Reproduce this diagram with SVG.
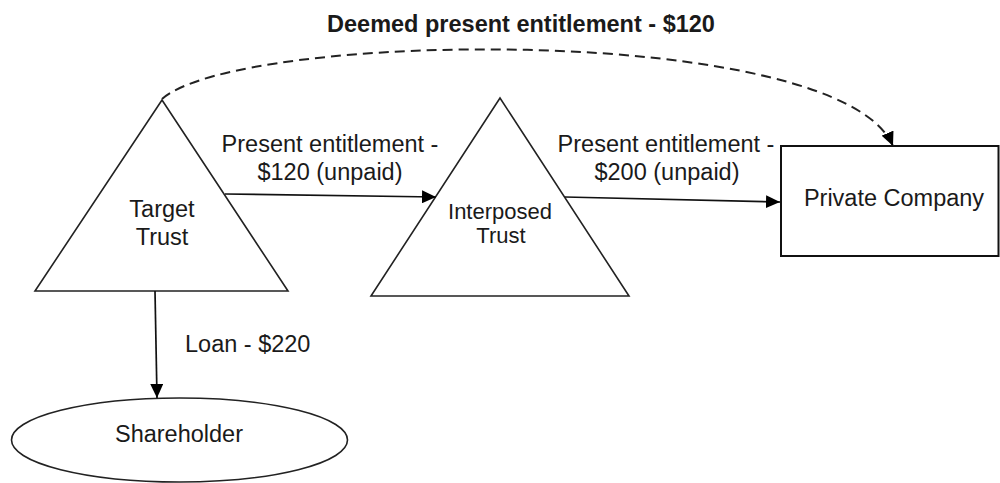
<svg xmlns="http://www.w3.org/2000/svg" width="1000" height="483" viewBox="0 0 1000 483">
<style>
.shape{fill:#fff;stroke:#222;stroke-width:1.6}
.lbl{font-family:"Liberation Sans",Arial,sans-serif;font-size:23.5px;fill:#1a1a1a;text-anchor:middle}
.sm{font-size:22px}
.title{font-weight:bold}
.conn{fill:none;stroke:#111;stroke-width:1.7}
.dash{stroke:#222;stroke-width:2;stroke-dasharray:10 6}
</style>
<defs>
<marker id="ah" markerUnits="userSpaceOnUse" markerWidth="15" markerHeight="13" refX="14" refY="6.5" orient="auto">
<path d="M0,0 L14,6.5 L0,13 Z" fill="#000"/>
</marker>
</defs>
<rect width="1000" height="483" fill="#fff"/>
<g id="target-trust">
<polygon class="shape" points="162,100 288,291 35,291"/>
<text class="lbl" x="162" y="217">Target</text>
<text class="lbl" x="162" y="245">Trust</text>
</g>
<g id="interposed-trust">
<polygon class="shape" points="500,98 629,296 371,296"/>
<text class="lbl sm" x="500" y="219">Interposed</text>
<text class="lbl sm" x="501" y="243">Trust</text>
</g>
<g id="private-company">
<rect class="shape" x="781" y="146" width="217.5" height="110" style="stroke:#111;stroke-width:2"/>
<text class="lbl" x="894" y="206">Private Company</text>
</g>
<g id="shareholder">
<ellipse class="shape" cx="179.5" cy="440" rx="168" ry="42"/>
<text class="lbl" x="179" y="442">Shareholder</text>
</g>
<g id="connectors">
<path class="conn dash" d="M162,99 C240,30 840,22 893,146" marker-end="url(#ah)"/>
<line class="conn" x1="225" y1="194" x2="436" y2="197" marker-end="url(#ah)"/>
<line class="conn" x1="565" y1="197" x2="780" y2="202" marker-end="url(#ah)"/>
<line class="conn" x1="155" y1="291" x2="157" y2="398" marker-end="url(#ah)"/>
<text class="lbl title" x="521" y="32">Deemed present entitlement - $120</text>
<text class="lbl" x="330" y="152">Present entitlement -</text>
<text class="lbl" x="330" y="180">$120 (unpaid)</text>
<text class="lbl" x="666" y="152">Present entitlement -</text>
<text class="lbl" x="667" y="180">$200 (unpaid)</text>
<text class="lbl" x="185" y="352" style="text-anchor:start">Loan - $220</text>
</g>
</svg>
